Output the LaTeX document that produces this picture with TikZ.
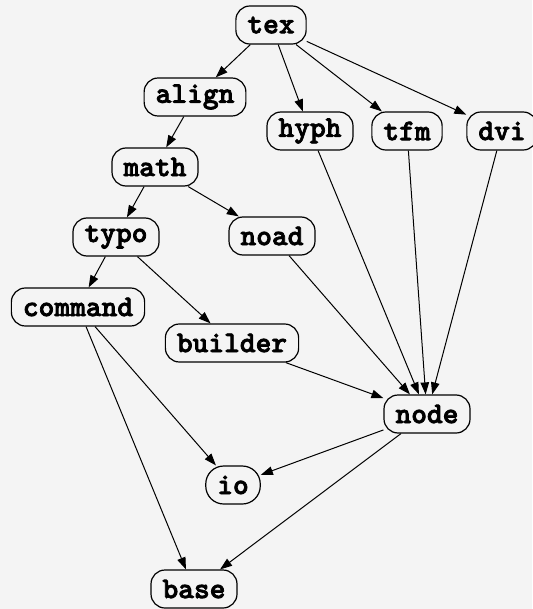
\documentclass[tikz,border=0pt]{standalone}
\usepackage{fontspec}
\newfontfamily\monob{lmmonolt10-bold.otf}[FakeBold=2.5]
\usetikzlibrary{arrows.meta}
\definecolor{bg}{RGB}{244,244,244}
\begin{document}
\begin{tikzpicture}[x=1pt,y=-1pt,
  mod/.style={draw=black,line width=1.2pt,fill=bg,rounded corners=14pt,
    minimum height=38pt,inner xsep=11.5pt,inner ysep=4pt,
    font=\monob\fontsize{30}{32}\selectfont},
  dep/.style={line width=1pt,-{Triangle[length=12pt,width=8.5pt]}}]
\fill[bg] (0,0) rectangle (532,609);
\useasboundingbox (0,0) rectangle (532,609);
\node[mod] (tex) at (271,25) {tex};
\node[mod] (align) at (195,97) {align};
\node[mod] (hyph) at (310,131) {hyph};
\node[mod] (tfm) at (407,131) {tfm};
\node[mod] (dvi) at (502,131) {dvi};
\node[mod] (math) at (155,167) {math};
\node[mod] (typo) at (116,237) {typo};
\node[mod] (noad) at (272,236) {noad};
\node[mod] (command) at (78,307) {command};
\node[mod] (builder) at (232,343) {builder};
\node[mod] (node) at (427,414) {node};
\node[mod,rounded corners=18pt] (io) at (233,485) {io};
\node[mod] (base) at (194,589) {base};
\draw[dep] (tex) -- (align);
\draw[dep] (tex) -- (hyph);
\draw[dep] (tex) -- (tfm);
\draw[dep] (tex) -- (dvi);
\draw[dep] (align) -- (math);
\draw[dep] (math) -- (typo);
\draw[dep] (math) -- (noad);
\draw[dep] (typo) -- (command);
\draw[dep] (typo) -- (builder);
\draw[dep] (hyph) -- (node);
\draw[dep] (tfm) -- (node);
\draw[dep] (dvi) -- (node);
\draw[dep] (noad) -- (node);
\draw[dep] (builder) -- (node);
\draw[dep] (command) -- (io);
\draw[dep] (command) -- (base);
\draw[dep] (node) -- (io);
\draw[dep] (node) -- (base);
\end{tikzpicture}
\end{document}
